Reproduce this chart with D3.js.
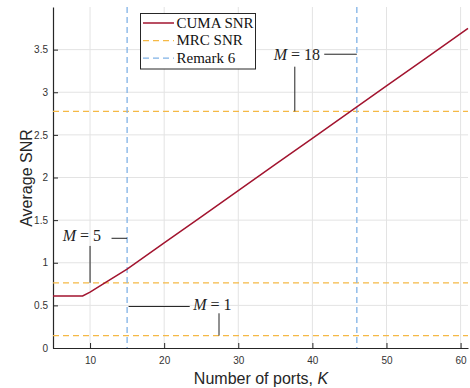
<!DOCTYPE html>
<html><head><meta charset="utf-8">
<script src="https://cdn.jsdelivr.net/npm/d3@7"></script>
<style>body{margin:0;background:#fff}svg{display:block}</style>
</head><body>
<svg id="c" width="470" height="388"></svg>
<script>
// ---- data ----
const cumaK   = [5, 9, 10, 12, 15, 20, 25, 30, 35, 40, 45, 50, 55, 61];
const cumaSNR = [0.61, 0.61, 0.655, 0.765, 0.925, 1.232, 1.539, 1.846, 2.153, 2.46, 2.767, 3.074, 3.381, 3.75];
const mrcSNR  = [0.145, 0.765, 2.775];       // M = 1, 5, 18
const remarkK = [15, 46];
const xTicks  = [10, 20, 30, 40, 50, 60];
const yTicks  = [0, 0.5, 1, 1.5, 2, 2.5, 3, 3.5];
const legendLabels = ["CUMA SNR", "MRC SNR", "Remark 6"];
// annotations: label, text pos, leader line to the text, pointer line to MRC level
const annLabels = ["5", "1", "18"];
const annText   = [[8.9, 1.30], [26.5, 0.49], [37.9, 3.43]];
const annHLine  = [[12.9, 15, 1.287], [15.2, 23.45, 0.487], [41.6, 46, 3.446]];
const annVLine  = [[10, 1.197, 0.765], [27.4, 0.407, 0.145], [37.63, 3.30, 2.775]];

// ---- layout ----
const svg = d3.select("#c");
const L = 53, R = 468, T = 7, B = 348;
const x = d3.scaleLinear().domain([5, 61]).range([L, R]);
const y = d3.scaleLinear().domain([0, 4.0]).range([B, T]);
const red = "#A2142F", orange = "#F5B946", blue = "#80B2E6", axisC = "#262626";

// grid
svg.append("g").selectAll("line").data(xTicks).join("line")
  .attr("x1", d => x(d)).attr("x2", d => x(d)).attr("y1", T).attr("y2", B)
  .attr("stroke", "#e3e3e3").attr("stroke-width", 1);
svg.append("g").selectAll("line").data(yTicks.filter(d => d > 0)).join("line")
  .attr("x1", L).attr("x2", R).attr("y1", d => y(d)).attr("y2", d => y(d))
  .attr("stroke", "#e3e3e3").attr("stroke-width", 1);

// axes
const fmt = d3.format("~g");
const xAxis = svg.append("g").attr("transform", `translate(0,${B})`)
  .call(d3.axisBottom(x).tickValues(xTicks).tickFormat(fmt).tickSizeInner(-5).tickSizeOuter(0).tickPadding(9));
const yAxis = svg.append("g").attr("transform", `translate(${L},0)`)
  .call(d3.axisLeft(y).tickValues(yTicks).tickFormat(fmt).tickSizeInner(-5).tickSizeOuter(0).tickPadding(5));
[xAxis, yAxis].forEach(a => {
  a.select(".domain").attr("stroke", axisC).attr("stroke-width", 1.2);
  a.selectAll(".tick line").attr("stroke", axisC);
  a.selectAll("text").attr("fill", "#333").style("font-family", "'Liberation Sans', Arial, sans-serif").style("font-size", "10px");
});

// MRC horizontal dashed lines
svg.append("g").selectAll("line").data(mrcSNR).join("line")
  .attr("x1", L).attr("x2", R).attr("y1", d => y(d)).attr("y2", d => y(d))
  .attr("stroke", orange).attr("stroke-width", 1.3).attr("stroke-dasharray", "6,4");
// Remark vertical dashed lines
svg.append("g").selectAll("line").data(remarkK).join("line")
  .attr("x1", d => x(d)).attr("x2", d => x(d)).attr("y1", T).attr("y2", B)
  .attr("stroke", blue).attr("stroke-width", 1.3).attr("stroke-dasharray", "6,4");

// CUMA line
svg.append("path").datum(cumaK.map((k, i) => [k, cumaSNR[i]]))
  .attr("d", d3.line().x(d => x(d[0])).y(d => y(d[1])))
  .attr("fill", "none").attr("stroke", red).attr("stroke-width", 1.5);

// annotations
const serif = "'Liberation Serif', 'Times New Roman', serif";
annLabels.forEach((lab, i) => {
  const t = svg.append("text").attr("x", x(annText[i][0])).attr("y", y(annText[i][1]))
    .attr("text-anchor", "middle").attr("dominant-baseline", "middle")
    .style("font-family", serif).style("font-size", "16px").attr("fill", "#222");
  t.append("tspan").attr("font-style", "italic").text("M");
  t.append("tspan").text(" = " + lab);
  const h = annHLine[i], v = annVLine[i];
  svg.append("line").attr("x1", x(h[0])).attr("x2", x(h[1])).attr("y1", y(h[2])).attr("y2", y(h[2]))
    .attr("stroke", "#222").attr("stroke-width", 1);
  svg.append("line").attr("x1", x(v[0])).attr("x2", x(v[0])).attr("y1", y(v[1])).attr("y2", y(v[2]))
    .attr("stroke", "#222").attr("stroke-width", 1);
});

// legend
const lg = svg.append("g");
lg.append("rect").attr("x", 140.5).attr("y", 13.5).attr("width", 115).attr("height", 55.5)
  .attr("fill", "#fff").attr("stroke", "#262626").attr("stroke-width", 1);
const lgColors = [red, orange, blue], lgDash = [null, "6,4", "6,4"];
legendLabels.forEach((lab, i) => {
  const yy = 23 + i * 17.6;
  lg.append("line").attr("x1", 143).attr("x2", 174).attr("y1", yy).attr("y2", yy)
    .attr("stroke", lgColors[i]).attr("stroke-width", i === 0 ? 1.5 : 1.3)
    .attr("stroke-dasharray", lgDash[i]);
  lg.append("text").attr("x", 176.5).attr("y", yy + 4.8).text(lab)
    .style("font-family", serif).style("font-size", "15px").attr("fill", "#111");
});

// axis labels
const sans = "'Liberation Sans', Arial, sans-serif";
svg.append("text").attr("transform", `translate(32,178) rotate(-90)`).attr("text-anchor", "middle")
  .style("font-family", sans).style("font-size", "16px").attr("fill", "#262626").text("Average SNR");
const xl = svg.append("text").attr("x", 261).attr("y", 383.5).attr("text-anchor", "middle")
  .style("font-family", sans).style("font-size", "16px").attr("fill", "#262626");
xl.append("tspan").text("Number of ports, ");
xl.append("tspan").attr("font-style", "italic").text("K");
</script>
</body></html>
